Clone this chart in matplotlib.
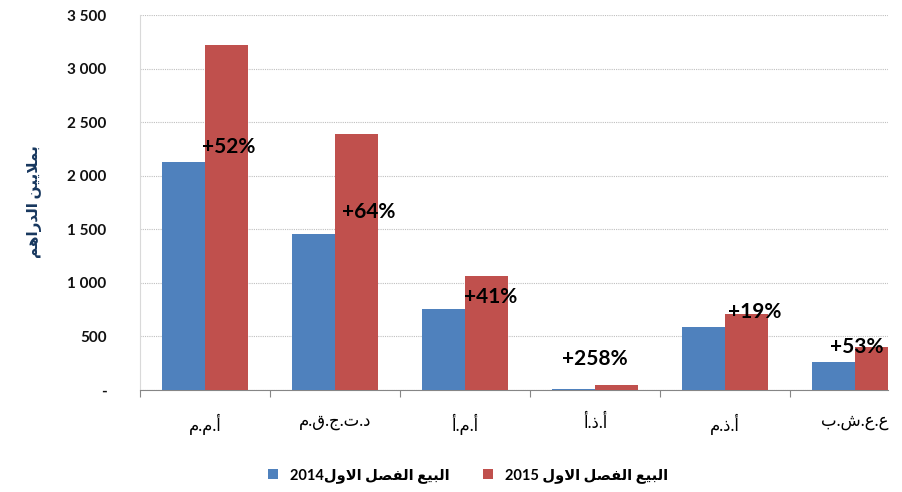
import numpy as np
import matplotlib
matplotlib.use('Agg')
import matplotlib.pyplot as plt
from matplotlib.ticker import FixedLocator, FuncFormatter

# Datos del grafico (millones de dirhams)
categorias = ['م.م.أ', 'م.ق.ج.ت.د', 'أ.م.أ', 'أ.ذ.أ', 'م.ذ.أ', 'ب.ش.ع.ع']
ventas_2014 = [2125, 1455, 760, 13, 590, 262]
ventas_2015 = [3220, 2385, 1068, 46, 708, 401]
variaciones = ['+52%', '+64%', '+41%', '+258%', '+19%', '+53%']

# Posiciones de las etiquetas de variacion (x en categorias, y en datos)
etiqueta_x = [0.18, 1.26, 2.20, 3.00, 4.23, 5.01]
etiqueta_y = [2268, 1661, 868, 290, 728, 405]

AZUL = '#4F81BD'
ROJO = '#C0504D'

# Formas de presentacion arabes: (aislada, final, inicial, media)
FORMAS = {
    'ا': (0xFE8D, 0xFE8E, None, None),
    'أ': (0xFE83, 0xFE84, None, None),
    'ب': (0xFE8F, 0xFE90, 0xFE91, 0xFE92),
    'ي': (0xFEF1, 0xFEF2, 0xFEF3, 0xFEF4),
    'ع': (0xFEC9, 0xFECA, 0xFECB, 0xFECC),
    'ف': (0xFED1, 0xFED2, 0xFED3, 0xFED4),
    'ص': (0xFEB9, 0xFEBA, 0xFEBB, 0xFEBC),
    'ل': (0xFEDD, 0xFEDE, 0xFEDF, 0xFEE0),
    'و': (0xFEED, 0xFEEE, None, None),
    'د': (0xFEA9, 0xFEAA, None, None),
    'ر': (0xFEAD, 0xFEAE, None, None),
    'ه': (0xFEE9, 0xFEEA, 0xFEEB, 0xFEEC),
    'م': (0xFEE1, 0xFEE2, 0xFEE3, 0xFEE4),
    'ن': (0xFEE5, 0xFEE6, 0xFEE7, 0xFEE8),
}


def arabe(texto):
    """Une las letras y devuelve el texto en orden visual (izq. a der.)"""
    unidades = []
    i = 0
    while i < len(texto):
        c = texto[i]
        if c == 'ل' and i + 1 < len(texto) and texto[i + 1] == 'ا':
            unidades.append('LA')
            i += 2
        else:
            unidades.append(c)
            i += 1

    def une_siguiente(u):
        return u in FORMAS and FORMAS[u][2] is not None

    def es_letra(u):
        return u == 'LA' or u in FORMAS

    salida = []
    for k, u in enumerate(unidades):
        prev = unidades[k - 1] if k > 0 else None
        sig = unidades[k + 1] if k + 1 < len(unidades) else None
        izq = prev is not None and une_siguiente(prev)
        der = sig is not None and es_letra(sig) and une_siguiente(u)
        if u == 'LA':
            salida.append(chr(0xFEFC if izq else 0xFEFB))
        elif u in FORMAS:
            iso, fin, ini, med = FORMAS[u]
            if izq and der:
                salida.append(chr(med))
            elif izq:
                salida.append(chr(fin))
            elif der:
                salida.append(chr(ini))
            else:
                salida.append(chr(iso))
        else:
            salida.append(u)
    return ''.join(salida)[::-1]


def formato_miles(v, pos):
    if v == 0:
        return '-'
    return f'{int(v):,}'.replace(',', ' ')


plt.rcParams['font.family'] = ['Lato', 'DejaVu Sans']

fig = plt.figure(figsize=(9.03, 4.92), dpi=100)
ax = fig.add_axes([0.155, 0.2073, 0.8284, 0.7622])

x = np.arange(len(categorias))
ancho = 0.33
ax.bar(x - ancho / 2, ventas_2014, ancho, color=AZUL, zorder=3,
       label='2014' + arabe('البيع الفصل الاول'))
ax.bar(x + ancho / 2, ventas_2015, ancho, color=ROJO, zorder=3,
       label='2015 ' + arabe('البيع الفصل الاول'))

for tx, ty, t in zip(etiqueta_x, etiqueta_y, variaciones):
    ax.text(tx, ty, t, ha='center', va='center', fontsize=15,
            fontweight='bold', color='black', zorder=4)

ax.set_xlim(-0.5, 5.254)
ax.set_ylim(0, 3500)
ax.set_yticks(np.arange(0, 3501, 500))
ax.yaxis.set_major_formatter(FuncFormatter(formato_miles))
ax.grid(axis='y', color='#bfbfbf', linestyle=(0, (1, 1)), linewidth=0.8, zorder=0)

# ticks en los limites de categoria, etiquetas en el centro
ax.xaxis.set_major_locator(FixedLocator(np.arange(-0.5, 5.0, 1.0)))
ax.xaxis.set_major_formatter(FuncFormatter(lambda v, p: ''))
ax.xaxis.set_minor_locator(FixedLocator(x))
ax.set_xticklabels(categorias, minor=True)
ax.tick_params(axis='x', which='major', length=5, color='#868686', direction='out')
ax.tick_params(axis='x', which='minor', length=0, pad=17, labelsize=12)
ax.tick_params(axis='y', length=0, pad=24, labelsize=11)
for lab in ax.get_yticklabels():
    lab.set_fontweight('bold')
    lab.set_color('#111111')

ax.spines['top'].set_visible(False)
ax.spines['right'].set_visible(False)
ax.spines['left'].set_color('#d9d9d9')
ax.spines['bottom'].set_color('#868686')

fig.text(0.038, 0.59, arabe('بملايين الدراهم'), rotation=90, ha='center',
         va='center', fontsize=11, fontweight='bold', color='#17375E')

fig.legend(loc='center', bbox_to_anchor=(0.518, 0.033), ncol=2, frameon=False,
           handlelength=0.7, handleheight=0.7, handletextpad=0.8,
           columnspacing=2.3, prop={'weight': 'bold', 'size': 10.5})

fig.savefig('out.png', dpi=100)
